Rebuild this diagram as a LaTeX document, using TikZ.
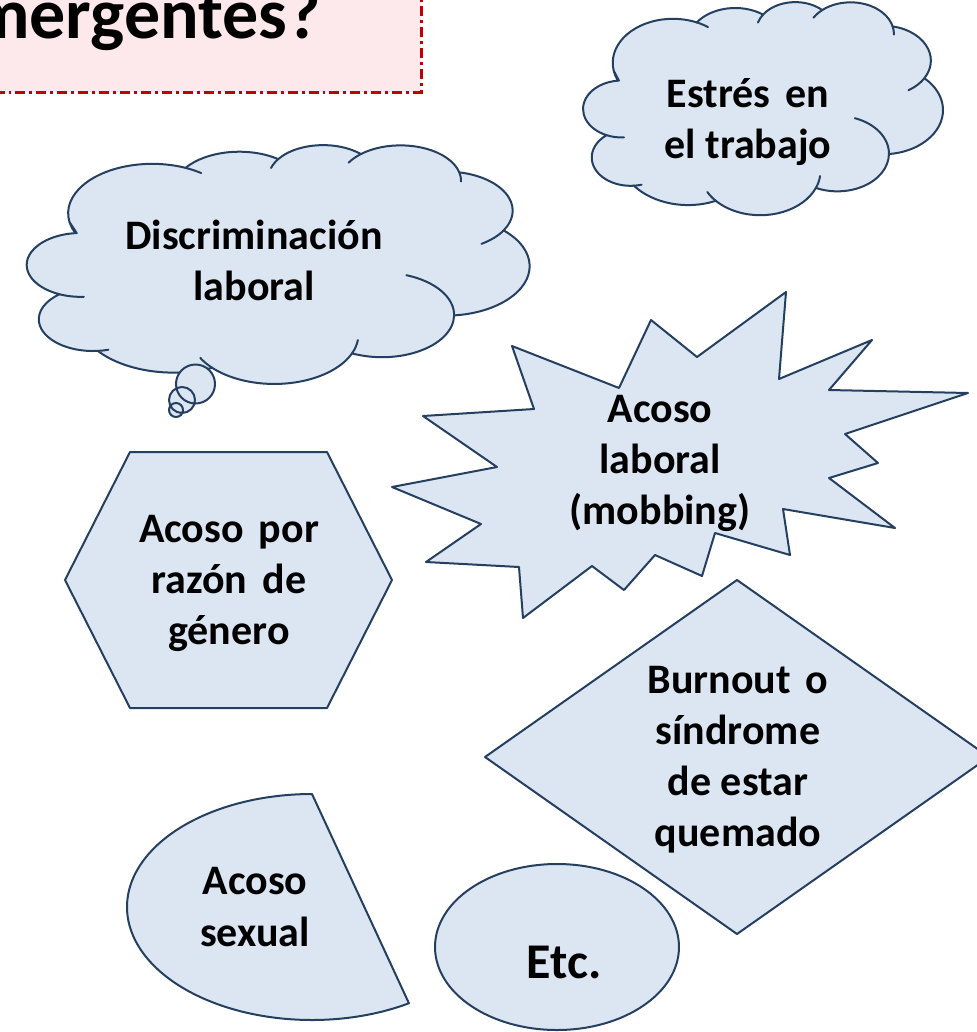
\documentclass[tikz,border=0pt]{standalone}
\usepackage{fontspec}
\setmainfont{Carlito}
\definecolor{shfill}{HTML}{DCE6F2}
\definecolor{shline}{HTML}{243F60}
\definecolor{tfill}{HTML}{FDE9EB}
\definecolor{tline}{HTML}{C00000}
\newcommand\wsp{\hspace{0.36em}}
\newcommand\ofcloud[4]{%
\begin{scope}[shift={(#1,#2)},x=#3pt,y=-#4pt]
 \path[shp] (39.00,143.70)
   arc[start angle=-190.49,delta angle=123.78,x radius=67.53,y radius=91.90]
   arc[start angle=-144.10,delta angle=89.95,x radius=53.33,y radius=72.67]
   arc[start angle=-145.81,delta angle=99.72,x radius=43.65,y radius=59.45]
   arc[start angle=-130.99,delta angle=117.24,x radius=48.57,y radius=65.95]
   arc[start angle=-78.71,delta angle=109.03,x radius=53.33,y radius=72.73]
   arc[start angle=-46.27,delta angle=130.27,x radius=67.75,y radius=92.20]
   arc[start angle=0.625,delta angle=114.03,x radius=57.85,y radius=78.67]
   arc[start angle=22.45,delta angle=115.17,x radius=67.52,y radius=92.15]
   arc[start angle=66.24,delta angle=75.71,x radius=77.20,y radius=105.43]
   arc[start angle=-274.94,delta angle=146.74,x radius=43.60,y radius=59.18]
   arc[start angle=-246.83,delta angle=152.52,x radius=43.45,y radius=59.45]
   -- cycle;
 \begin{scope}[inner]
 \draw ([shift={(86.74:43.45 and 59.45)}]48.02,223.28) arc[start angle=86.74,delta angle=26.43,x radius=43.45,y radius=59.45];
 \draw ([shift={(73.61:43.60 and 59.18)}]57.88,324.43) arc[start angle=73.61,delta angle=11.45,x radius=43.60,y radius=59.18];
 \draw ([shift={(137.62:67.52 and 92.15)}]203.41,352.78) arc[start angle=137.62,delta angle=14.08,x radius=67.52,y radius=92.15];
 \draw ([shift={(6.45:67.52 and 92.15)}]203.41,352.78) arc[start angle=6.45,delta angle=16.0,x radius=67.52,y radius=92.15];
 \draw ([shift={(-70.29:57.85 and 78.67)}]289.95,316.48) arc[start angle=-70.29,delta angle=70.92,x radius=57.85,y radius=78.67];
 \draw ([shift={(30.32:53.33 and 72.73)}]341.53,122.31) arc[start angle=30.32,delta angle=27.75,x radius=53.33,y radius=72.73];
 \draw ([shift={(-13.74:48.57 and 65.95)}]304.79,66.67) arc[start angle=-13.74,delta angle=14.86,x radius=48.57,y radius=65.95];
 \draw ([shift={(-149.18:48.57 and 65.95)}]304.79,66.67) arc[start angle=-149.18,delta angle=18.2,x radius=48.57,y radius=65.95];
 \draw ([shift={(-163.49:43.65 and 59.45)}]242.65,59.71) arc[start angle=-163.49,delta angle=17.69,x radius=43.65,y radius=59.45];
 \draw ([shift={(-66.71:67.53 and 91.90)}]105.40,126.97) arc[start angle=-66.71,delta angle=12.32,x radius=67.53,y radius=91.90];
 \draw ([shift={(157.65:67.53 and 91.90)}]105.40,126.97) arc[start angle=157.65,delta angle=11.86,x radius=67.53,y radius=91.90];
 \end{scope}
\end{scope}}
\begin{document}
\begin{tikzpicture}[x=0.75pt,y=-0.75pt,
  shp/.style={fill=shfill,draw=shline,line width=1.5pt,line join=round},
  inner/.style={draw=shline,line width=1.5pt,line cap=round},
  lbl/.style={font=\bfseries\fontsize{31.5}{38.3}\selectfont,align=center,inner sep=0pt,text=black}]
\useasboundingbox (0,0) rectangle (976,1032);

% title box
\path[fill=tfill,draw=tline,line width=2.25pt,dash pattern=on 7.5pt off 3pt on 2.2pt off 3pt] (-30,-30) rectangle (421,92);
\node[anchor=base east,inner sep=0pt,font=\bfseries\fontsize{54}{60}\selectfont] (title) at (321,38) {mergentes?};

% clouds
\ofcloud{579}{2}{0.6684}{0.3594}
\node[lbl] (estres) at (748,122) {Estrés\wsp en\\el trabajo};

\ofcloud{21}{145}{0.934}{0.4028}
\fill[shfill] (195.5,384) circle[radius=19.5] (182,400) circle[radius=13] (176,410) circle[radius=7];
\draw[shline,line width=1.5pt] (195.5,384) circle[radius=19.5] (182,400) circle[radius=13] (176,410) circle[radius=7];
\node[lbl] (discr) at (254,260) {Discriminación\\laboral};

% explosion
\path[shp] (786,292) -- (779,379) -- (872,340) -- (829,390) -- (968,393) -- (845,434) -- (878,463) -- (829,478) -- (895,528) -- (783,509) -- (790,555) -- (715,533) -- (702,576) -- (655,555) -- (624,590) -- (592,566) -- (523,618) -- (519,567) -- (426,562) -- (481,524) -- (392,487) -- (497,467) -- (423,416) -- (534,409) -- (512,346) -- (619,388) -- (651,320) -- (697,357) -- cycle;
\node[lbl] (mobbing) at (660,463) {Acoso\\laboral\\(mobbing)};

% hexagon
\path[shp] (130,452) -- (327,452) -- (392,580) -- (327,708) -- (130,708) -- (65,580) -- cycle;
\node[lbl] (genero) at (229,583) {Acoso\wsp por\\razón\wsp de\\género};

% diamond
\path[shp] (737,580) -- (989,757) -- (737,934) -- (485,757) -- cycle;
\node[lbl] (burnout) at (738,760) {Burnout\wsp o\\síndrome\\de estar\\quemado};

% chord
\path[shp] plot[domain=270:58.4,samples=90,smooth] ({312+185*cos(\x)},{907+113*sin(\x)}) -- cycle;
\node[lbl] (sexual) at (255,907) {Acoso\\sexual};

% ellipse
\path[shp] (557,947) ellipse[x radius=122,y radius=83];
\node[lbl,font=\bfseries\fontsize{37.5}{40}\selectfont] (etc) at (564,962) {Etc.};
\end{tikzpicture}
\end{document}
